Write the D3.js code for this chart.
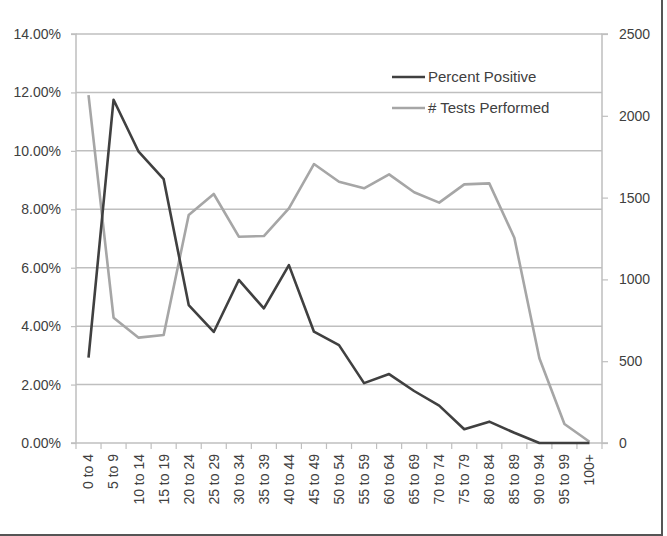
<!DOCTYPE html>
<html>
<head>
<meta charset="utf-8">
<script src="https://cdn.jsdelivr.net/npm/d3@7"></script>
<style>
  html, body { margin: 0; padding: 0; background: #fff; }
  svg { display: block; font-family: "Liberation Sans", "DejaVu Sans", sans-serif; }
</style>
</head>
<body>
<div id="chart"></div>
<script>
// Age groups vs. percent positive and number of tests
const ageGroups = ["0 to 4", "5 to 9", "10 to 14", "15 to 19", "20 to 24", "25 to 29", "30 to 34",
  "35 to 39", "40 to 44", "45 to 49", "50 to 54", "55 to 59", "60 to 64", "65 to 69", "70 to 74",
  "75 to 79", "80 to 84", "85 to 89", "90 to 94", "95 to 99", "100+"];
const percentPositive = [2.92, 11.75, 9.97, 9.03, 4.72, 3.80, 5.58, 4.61, 6.09, 3.81, 3.35, 2.05,
  2.36, 1.78, 1.28, 0.47, 0.73, 0.35, 0, 0, 0];
const testsPerformed = [2127, 766, 644, 660, 1394, 1522, 1261, 1265, 1434, 1705, 1597, 1557,
  1642, 1533, 1469, 1581, 1587, 1255, 518, 116, 8];
const leftTicks = [0, 2, 4, 6, 8, 10, 12, 14];
const rightTicks = [0, 500, 1000, 1500, 2000, 2500];

const W = 667, H = 536;
const plot = { left: 76, right: 602, top: 34, bottom: 443 };
const dark = "#404040", light = "#a6a6a6", grid = "#bfbfbf", textCol = "#404040";

const svg = d3.select("#chart").append("svg")
  .attr("width", W).attr("height", H);

const x = d3.scaleBand().domain(ageGroups).range([plot.left, plot.right]).padding(0);
const yL = d3.scaleLinear().domain([0, 14]).range([plot.bottom, plot.top]);
const yR = d3.scaleLinear().domain([0, 2500]).range([plot.bottom, plot.top]);

// Gridlines
svg.append("g").selectAll("line").data(leftTicks.slice(1)).join("line")
  .attr("x1", plot.left).attr("x2", plot.right)
  .attr("y1", d => yL(d)).attr("y2", d => yL(d))
  .attr("stroke", grid).attr("stroke-width", 1.5);

// Left axis
const axL = svg.append("g").attr("transform", `translate(${plot.left},0)`)
  .call(d3.axisLeft(yL).tickValues(leftTicks).tickFormat(d => d.toFixed(2) + "%").tickSize(5).tickPadding(10));

// Right axis
const axR = svg.append("g").attr("transform", `translate(${plot.right},0)`)
  .call(d3.axisRight(yR).tickValues(rightTicks).tickFormat(d3.format("d")).tickSize(6).tickPadding(11));

// Bottom axis: ticks at category boundaries
const axB = svg.append("g").attr("transform", `translate(0,${plot.bottom})`)
  .call(d3.axisBottom(x).tickSize(0).tickPadding(0));
axB.selectAll(".tick text")
  .attr("transform", "rotate(-90)")
  .attr("x", -11).attr("y", 0).attr("dy", "0.35em")
  .attr("text-anchor", "end");
axB.append("g").selectAll("line").data(d3.range(ageGroups.length + 1)).join("line")
  .attr("x1", i => plot.left + i * x.step()).attr("x2", i => plot.left + i * x.step())
  .attr("y1", 0).attr("y2", 6)
  .attr("stroke", grid).attr("stroke-width", 1.2);

[axL, axR, axB].forEach(ax => {
  ax.selectAll(".domain").attr("stroke", grid).attr("stroke-width", 1.5);
  ax.selectAll(".tick line").attr("stroke", grid).attr("stroke-width", 1.2);
  ax.selectAll(".tick text").attr("fill", textCol).attr("font-size", "14px")
    .attr("font-family", "Liberation Sans, sans-serif");
});
axL.select(".domain").attr("d", `M-5,${plot.bottom}H0V${plot.top}H-5`);
axR.select(".domain").attr("d", `M6,${plot.bottom}H0V${plot.top}H6`);
axB.select(".domain").attr("d", `M${plot.left},0H${plot.right}`);

// Lines
const cx = d => x(d) + x.bandwidth() / 2;
svg.append("path").datum(ageGroups)
  .attr("fill", "none").attr("stroke", light).attr("stroke-width", 2.6).attr("stroke-linejoin", "round")
  .attr("d", d3.line().x(d => cx(d)).y((d, i) => yR(testsPerformed[i])));
svg.append("path").datum(ageGroups)
  .attr("fill", "none").attr("stroke", dark).attr("stroke-width", 2.6).attr("stroke-linejoin", "round")
  .attr("d", d3.line().x(d => cx(d)).y((d, i) => yL(percentPositive[i])));

// Legend
const legend = [
  { name: "Percent Positive", color: dark, y: 77 },
  { name: "# Tests Performed", color: light, y: 108 }
];
const lg = svg.append("g");
legend.forEach(l => {
  lg.append("line").attr("x1", 392).attr("x2", 425).attr("y1", l.y).attr("y2", l.y)
    .attr("stroke", l.color).attr("stroke-width", 2.6);
  lg.append("text").attr("x", 428).attr("y", l.y).attr("dy", "0.35em")
    .attr("fill", textCol).attr("font-size", "15px").text(l.name);
});

// Frame (right and bottom edges visible)
svg.append("path").attr("d", `M${W - 5},0V${H - 1}H0`)
  .attr("fill", "none").attr("stroke", "#555").attr("stroke-width", 2);
</script>
</body>
</html>
